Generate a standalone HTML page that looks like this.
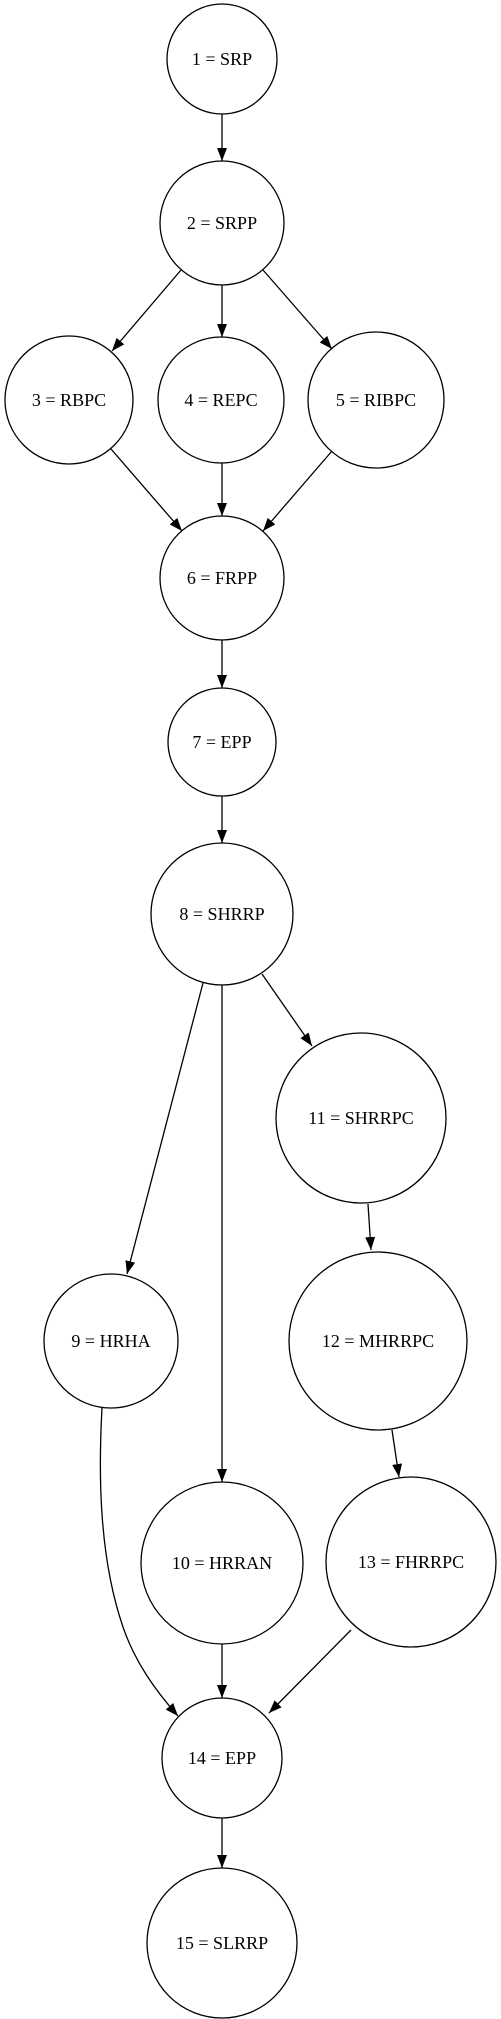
<!DOCTYPE html>
<html><head><meta charset="utf-8"><style>html,body{margin:0;padding:0;background:#fff;}svg{display:block;}</style></head>
<body>
<svg width="501" height="2019" viewBox="0 0 501 2019" xmlns="http://www.w3.org/2000/svg">
<defs>
<marker id="a" markerWidth="14" markerHeight="10" refX="13" refY="5" orient="auto" markerUnits="userSpaceOnUse">
<path d="M0,0 L13,5 L0,10 Z" fill="#000"/>
</marker>
</defs>
<g fill="none" stroke="#000" stroke-width="1.3">
<ellipse cx="222" cy="59" rx="55" ry="55"/>
<ellipse cx="222" cy="223" rx="62" ry="62"/>
<ellipse cx="69" cy="400" rx="64" ry="64"/>
<ellipse cx="221" cy="400" rx="63" ry="63"/>
<ellipse cx="376" cy="400" rx="68" ry="68"/>
<ellipse cx="222" cy="578" rx="62" ry="62"/>
<ellipse cx="222" cy="742" rx="54" ry="54"/>
<ellipse cx="222" cy="914" rx="71" ry="71"/>
<ellipse cx="361" cy="1118" rx="85" ry="85"/>
<ellipse cx="111" cy="1341" rx="67" ry="67"/>
<ellipse cx="378" cy="1341" rx="89" ry="89"/>
<ellipse cx="222" cy="1563" rx="81" ry="81"/>
<ellipse cx="411" cy="1562" rx="85" ry="85"/>
<ellipse cx="222" cy="1758" rx="60" ry="60"/>
<ellipse cx="222" cy="1943" rx="75" ry="75"/>
</g>
<g fill="none" stroke="#000" stroke-width="1.3" marker-end="url(#a)">
<line x1="222" y1="114" x2="222" y2="161"/>
<line x1="181" y1="270" x2="112" y2="351"/>
<line x1="222" y1="285" x2="222" y2="337"/>
<line x1="263" y1="270" x2="332" y2="349"/>
<line x1="111" y1="449" x2="182" y2="531"/>
<line x1="222" y1="463" x2="222" y2="516"/>
<line x1="332" y1="451" x2="263" y2="531"/>
<line x1="222" y1="640" x2="222" y2="688"/>
<line x1="222" y1="796" x2="222" y2="843"/>
<line x1="203" y1="983" x2="127" y2="1274"/>
<line x1="222" y1="985" x2="222" y2="1482"/>
<line x1="262" y1="974" x2="312" y2="1046"/>
<line x1="368" y1="1204" x2="371" y2="1250"/>
<line x1="392" y1="1430" x2="399" y2="1477"/>
<line x1="222" y1="1644" x2="222" y2="1698"/>
<line x1="351" y1="1630" x2="269" y2="1713"/>
<line x1="222" y1="1818" x2="222" y2="1868"/>
<path d="M102,1408 C98,1480 100,1560 123,1627 C135,1662 155,1690 178,1716"/>
</g>
<g font-family="Liberation Serif, serif" font-size="18" text-anchor="middle" fill="#000">
<text x="222" y="65">1 = SRP</text>
<text x="222" y="229">2 = SRPP</text>
<text x="69" y="406">3 = RBPC</text>
<text x="221" y="406">4 = REPC</text>
<text x="376" y="406">5 = RIBPC</text>
<text x="222" y="584">6 = FRPP</text>
<text x="222" y="748">7 = EPP</text>
<text x="222" y="920">8 = SHRRP</text>
<text x="361" y="1124">11 = SHRRPC</text>
<text x="111" y="1347">9 = HRHA</text>
<text x="378" y="1347">12 = MHRRPC</text>
<text x="222" y="1569">10 = HRRAN</text>
<text x="411" y="1568">13 = FHRRPC</text>
<text x="222" y="1764">14 = EPP</text>
<text x="222" y="1949">15 = SLRRP</text>
</g>
</svg>
</body></html>
